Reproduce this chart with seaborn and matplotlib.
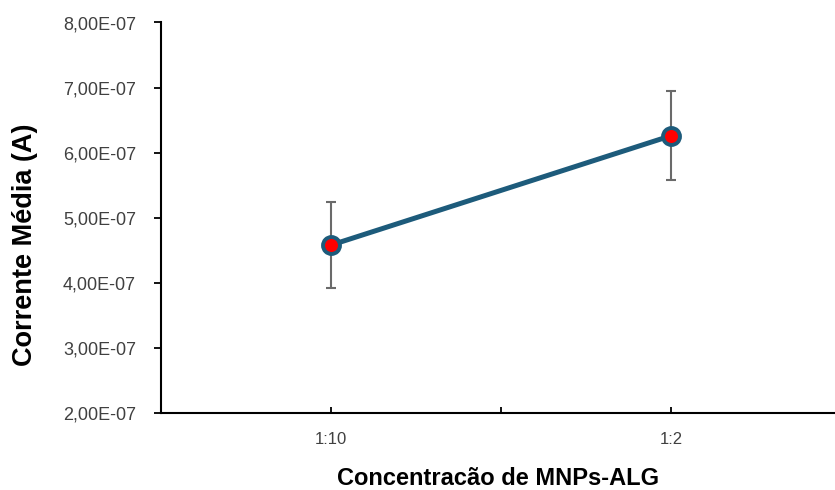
import numpy as np
import pandas as pd
import matplotlib
matplotlib.use("Agg")
import matplotlib.pyplot as plt
import seaborn as sns
from matplotlib.ticker import FuncFormatter, FixedLocator

categories = ["1:10", "1:2"]
mean_current = [4.58e-7, 6.26e-7]
std_error = [0.655e-7, 0.68e-7]
y_ticks = [2e-7, 3e-7, 4e-7, 5e-7, 6e-7, 7e-7, 8e-7]

df = pd.DataFrame({"conc": categories, "corrente": mean_current})

sns.set_theme(style="white")
plt.rcParams["font.family"] = ["Liberation Sans", "DejaVu Sans"]

fig = plt.figure(figsize=(8.35, 4.9), dpi=100)
ax = fig.add_axes([161 / 835, 1 - 413 / 490, 1 - 161 / 835, (413 - 22.5) / 490])

line_color = "#1D5B7B"
xpos = np.arange(len(categories))
ax.errorbar(xpos, mean_current, yerr=std_error, fmt="none", ecolor="#6A6A6A",
            elinewidth=1.5, capsize=3.6, capthick=1.5, zorder=2)
sns.lineplot(data=df, x="conc", y="corrente", ax=ax, color=line_color, lw=3.6,
             marker="o", markersize=12.2, markerfacecolor="#FF0000",
             markeredgecolor=line_color, markeredgewidth=2.8, zorder=3, sort=False)

ax.set_xlim(-0.5, 1.5 - 6 / 340)
ax.set_ylim(2e-7, 8e-7)
ax.set_yticks(y_ticks)
ax.yaxis.set_major_formatter(FuncFormatter(
    lambda v, p: ("%.2E" % v).replace(".", ",")))
ax.set_xticks(xpos)
ax.set_xticklabels(categories)
ax.xaxis.set_minor_locator(FixedLocator([0.5]))

for s in ["top", "right"]:
    ax.spines[s].set_visible(False)
for s in ["left", "bottom"]:
    ax.spines[s].set_color("black")
    ax.spines[s].set_linewidth(1.5)

ax.tick_params(axis="y", which="major", direction="out", length=5, width=1.3,
               color="black", labelsize=13, labelcolor="#404040", pad=13, left=True)
ax.tick_params(axis="x", which="both", direction="in", length=4, width=1.3,
               color="black", labelsize=12, labelcolor="#404040", pad=14, bottom=True)

ax.set_xlabel("Concentracão de MNPs-ALG", fontsize=17, fontweight="bold",
              color="black", labelpad=14)
ax.set_ylabel("Corrente Média (A)", fontsize=19.5, fontweight="bold",
              color="black")
ax.yaxis.set_label_coords(-(161 - 38.5) / 674, (413 - 245) / 390.5)

fig.savefig("out.png", dpi=100)
